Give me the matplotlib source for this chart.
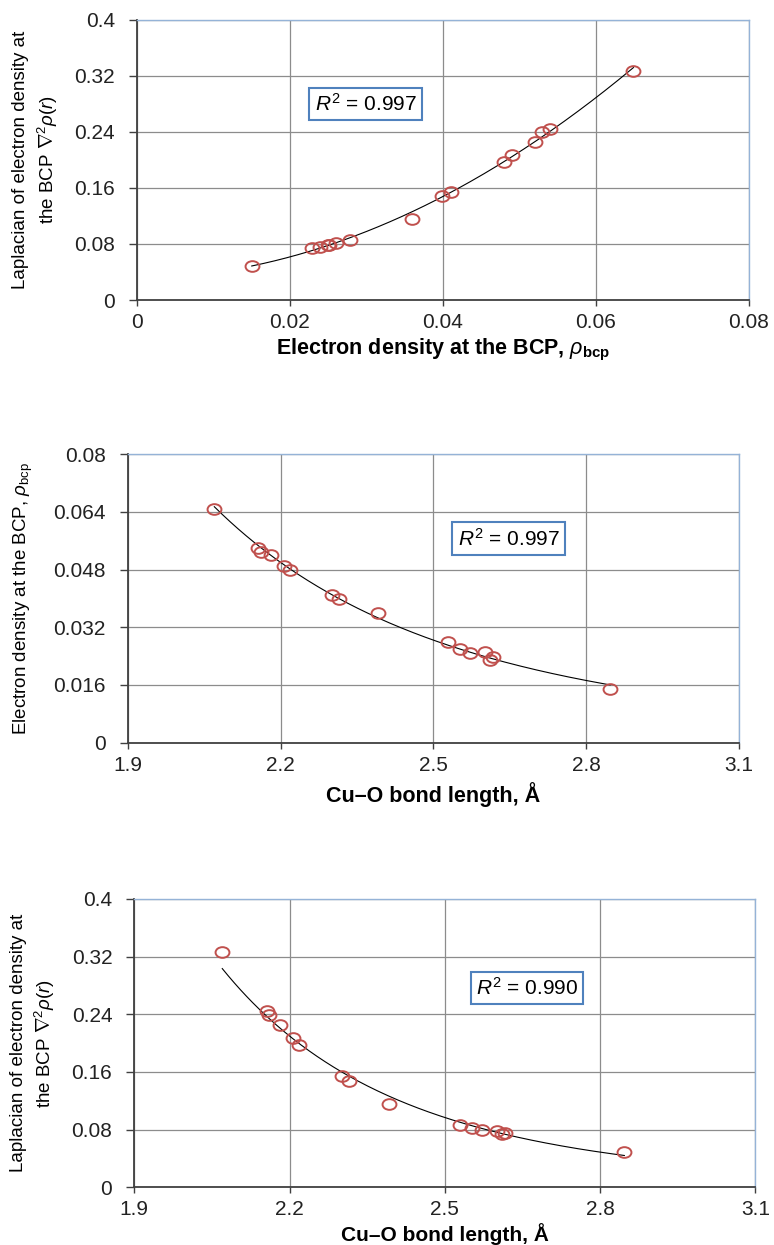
import numpy as np
import matplotlib
matplotlib.use('Agg')
import matplotlib.pyplot as plt
from matplotlib.path import Path

plt.rcParams['font.family'] = ['Liberation Sans', 'DejaVu Sans']
plt.rcParams['mathtext.fontset'] = 'custom'
plt.rcParams['mathtext.rm'] = 'Liberation Sans'
plt.rcParams['mathtext.it'] = 'Liberation Sans:italic'
plt.rcParams['mathtext.bf'] = 'Liberation Sans:bold'

# Cu-O bond length (A), electron density and Laplacian at the BCP
bond_length = [2.070, 2.156, 2.161, 2.182, 2.206, 2.219, 2.301, 2.315, 2.392,
               2.529, 2.553, 2.571, 2.601, 2.611, 2.617, 2.847]
rho_bcp = [0.0649, 0.0540, 0.0530, 0.0520, 0.0490, 0.0480, 0.0410, 0.0399, 0.0359,
           0.0279, 0.0260, 0.0250, 0.0251, 0.0229, 0.0239, 0.0150]
laplacian = [0.327, 0.244, 0.239, 0.225, 0.207, 0.197, 0.154, 0.148, 0.1155,
             0.086, 0.082, 0.079, 0.078, 0.074, 0.075, 0.049]
r2_values = ['0.997', '0.997', '0.990']

red = '#C0504D'
spine_dark = '#404040'
spine_blue = '#95B3D7'
box_blue = '#4F81BD'

# slightly wide ellipse marker (original picture is stretched)
circ = Path.unit_circle()
ell = Path(circ.vertices * [1.3, 1.0], circ.codes)

fig = plt.figure(figsize=(7.74, 12.45), dpi=100)


def fmt(v):
    return ('%.3f' % v).rstrip('0').rstrip('.')


def style_axes(ax, xlim, xticks, ylim, yticks):
    ax.set_xlim(*xlim)
    ax.set_ylim(*ylim)
    ax.set_xticks(xticks)
    ax.set_yticks(yticks)
    ax.set_xticklabels([fmt(v) for v in xticks])
    ax.set_yticklabels([fmt(v) for v in yticks])
    ax.grid(True, color='#8c8c8c', linewidth=0.9)
    ax.set_axisbelow(True)
    for s in ['left', 'bottom']:
        ax.spines[s].set_color(spine_dark)
        ax.spines[s].set_linewidth(1.3)
    for s in ['top', 'right']:
        ax.spines[s].set_color(spine_blue)
        ax.spines[s].set_linewidth(1.0)
    ax.tick_params(axis='x', direction='out', length=4.3, width=1.0, color=spine_dark,
                   labelsize=15, labelcolor='#222222', pad=5)
    ax.tick_params(axis='y', direction='out', length=5.8, width=1.0, color=spine_dark,
                   labelsize=15, labelcolor='#222222', pad=10)


def r2_box(ax, x, y, txt):
    ax.text(x, y, r'$R^2$ = ' + txt, fontsize=15, ha='center', va='center',
            bbox=dict(boxstyle='square,pad=0.25', fc='white', ec=box_blue, lw=1.5))


def power_fit(x, y):
    b, a = np.polyfit(np.log(x), np.log(y), 1)
    xs = np.linspace(min(x), max(x), 200)
    return xs, np.exp(a) * xs ** b


mk = dict(linestyle='none', marker=ell, markersize=10, markerfacecolor='none',
          markeredgecolor=red, markeredgewidth=1.4)
lap_label = 'Laplacian of electron density at\n' + r'the BCP $\nabla^2\rho(r)$'
bond_label = 'Cu\u2013O bond length, \u00c5'

# ---- panel 1: Laplacian vs rho
ax1 = fig.add_axes([0.177, 0.759, 0.7907, 0.2253])
ax1.plot(rho_bcp, laplacian, **mk)
c = np.polyfit(rho_bcp, laplacian, 2)
xs = np.linspace(min(rho_bcp), max(rho_bcp), 200)
ax1.plot(xs, np.polyval(c, xs), color='black', lw=0.8, zorder=1)
style_axes(ax1, (0, 0.08), [0, 0.02, 0.04, 0.06, 0.08], (0, 0.4),
           [0, 0.08, 0.16, 0.24, 0.32, 0.4])
ax1.set_xlabel(r'Electron density at the BCP, $\rho_{\mathbf{bcp}}$',
               fontsize=15.5, fontweight='bold')
ax1.xaxis.set_label_coords(0.5, -0.13)
ax1.set_ylabel(lap_label, fontsize=13.5, linespacing=1.35)
ax1.yaxis.set_label_coords(-0.126, 0.5)
r2_box(ax1, 0.0299, 0.2795, r2_values[0])

# ---- panel 2: rho vs bond length
ax2 = fig.add_axes([0.165, 0.4035, 0.7898, 0.2316])
ax2.plot(bond_length, rho_bcp, **mk)
xb, yb = power_fit(bond_length, rho_bcp)
ax2.plot(xb, yb, color='black', lw=0.8, zorder=1)
style_axes(ax2, (1.9, 3.1), [1.9, 2.2, 2.5, 2.8, 3.1], (0, 0.08),
           [0, 0.016, 0.032, 0.048, 0.064, 0.08])
ax2.set_xlabel(bond_label, fontsize=15.5, fontweight='bold')
ax2.xaxis.set_label_coords(0.5, -0.135)
ax2.set_ylabel(r'Electron density at the BCP, $\rho_{\mathrm{bcp}}$', fontsize=13.5)
ax2.yaxis.set_label_coords(-0.152, 0.5)
r2_box(ax2, 2.648, 0.0566, r2_values[1])

# ---- panel 3: Laplacian vs bond length
ax3 = fig.add_axes([0.1735, 0.0464, 0.8023, 0.2316])
ax3.plot(bond_length, laplacian, **mk)
xb, yb = power_fit(bond_length, laplacian)
ax3.plot(xb, yb, color='black', lw=0.8, zorder=1)
style_axes(ax3, (1.9, 3.1), [1.9, 2.2, 2.5, 2.8, 3.1], (0, 0.4),
           [0, 0.08, 0.16, 0.24, 0.32, 0.4])
ax3.set_xlabel(bond_label, fontsize=15, fontweight='bold')
ax3.xaxis.set_label_coords(0.5, -0.125)
ax3.set_ylabel(lap_label, fontsize=13.5, linespacing=1.35)
ax3.yaxis.set_label_coords(-0.1245, 0.5)
r2_box(ax3, 2.659, 0.2763, r2_values[2])

fig.savefig('out.png', dpi=100)
